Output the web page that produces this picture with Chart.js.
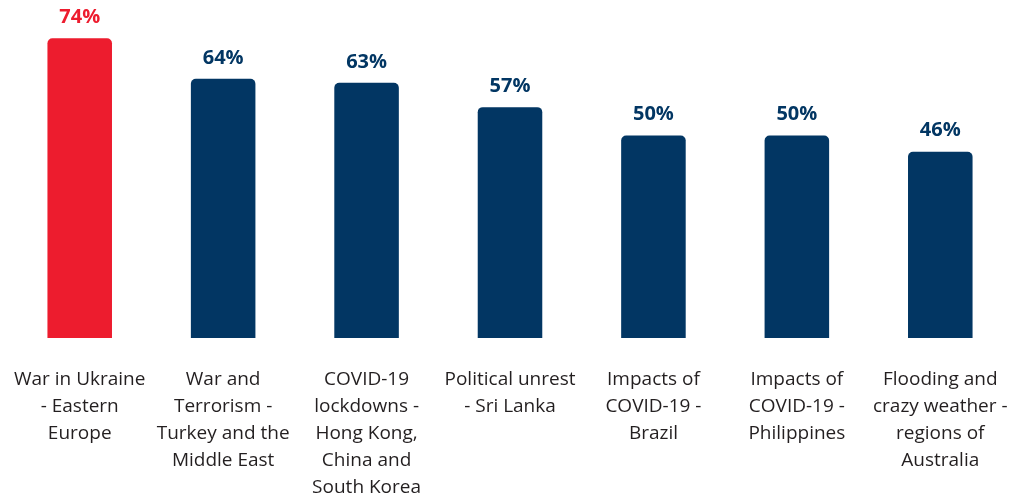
<!DOCTYPE html>
<html>
<head>
<meta charset="utf-8">
<script src="https://cdn.jsdelivr.net/npm/chart.js@4"></script>
<style>
  body { margin: 0; background: #fff; }
  #wrap { width: 1013px; height: 501px; position: relative; }
</style>
</head>
<body>
<div id="wrap"><canvas id="grafico"></canvas></div>
<script>
const categorias = [
  ['War in Ukraine', '- Eastern', 'Europe'],
  ['War and', 'Terrorism -', 'Turkey and the', 'Middle East'],
  ['COVID-19', 'lockdowns -', 'Hong Kong,', 'China and', 'South Korea'],
  ['Political unrest', '- Sri Lanka'],
  ['Impacts of', 'COVID-19 -', 'Brazil'],
  ['Impacts of', 'COVID-19 -', 'Philippines'],
  ['Flooding and', 'crazy weather -', 'regions of', 'Australia']
];
const valores = [74, 64, 63, 57, 50, 50, 46];

const VERMELHO = '#ed1c2e';
const AZUL = '#023663';
const cores = valores.map((v, i) => i === 0 ? VERMELHO : AZUL);

const rotulosValores = {
  id: 'rotulosValores',
  afterDatasetsDraw(chart) {
    const ctx = chart.ctx;
    const meta = chart.getDatasetMeta(0);
    ctx.save();
    ctx.font = 'bold 20px "Open Sans", sans-serif';
    ctx.textAlign = 'center';
    ctx.textBaseline = 'middle';
    meta.data.forEach((bar, i) => {
      ctx.fillStyle = cores[i];
      ctx.fillText(valores[i] + '%', bar.x, bar.y - 21);
    });
    ctx.restore();
  }
};

new Chart(document.getElementById('grafico').getContext('2d'), {
  type: 'bar',
  data: {
    labels: categorias,
    datasets: [{
      data: valores,
      backgroundColor: cores,
      borderWidth: 0,
      borderRadius: { topLeft: 5, topRight: 5 },
      borderSkipped: 'bottom',
      barPercentage: 0.45,
      categoryPercentage: 1
    }]
  },
  options: {
    responsive: true,
    maintainAspectRatio: false,
    animation: false,
    layout: { padding: { top: 14, left: 8, right: 1, bottom: 0 } },
    plugins: {
      legend: { display: false },
      tooltip: { enabled: false }
    },
    scales: {
      x: {
        grid: { display: false, drawTicks: false },
        border: { display: false },
        ticks: {
          color: '#231f20',
          font: { family: '"Open Sans", sans-serif', size: 19, lineHeight: '27px' },
          padding: 28,
          maxRotation: 0,
          autoSkip: false
        },
        afterFit(scale) {
          scale.height = 163;
          scale.paddingLeft = 0;
          scale.paddingRight = 0;
        }
      },
      y: {
        display: false,
        min: 0,
        max: 80
      }
    }
  },
  plugins: [rotulosValores]
});
</script>
</body>
</html>
